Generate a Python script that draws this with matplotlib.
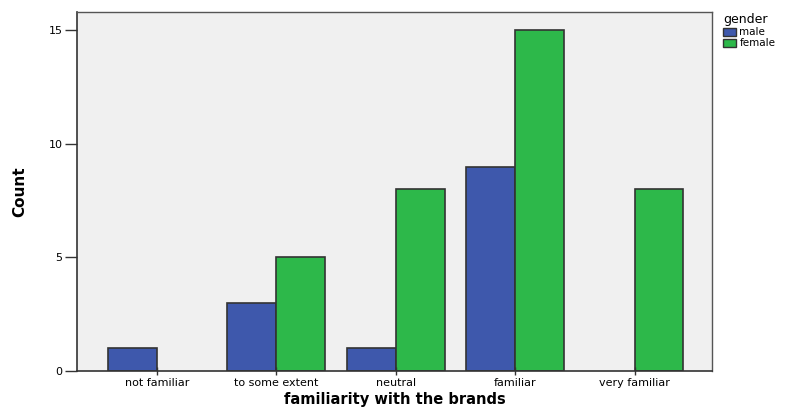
import matplotlib
matplotlib.use('Agg')
import matplotlib.pyplot as plt
import numpy as np
from matplotlib.patches import Patch

# counts per familiarity level, split by gender
categories = ['not familiar', 'to some extent', 'neutral', 'familiar', 'very familiar']
male = [1, 3, 1, 9, 0]
female = [0, 5, 8, 15, 8]
yticks = [0, 5, 10, 15]

blue = '#3E58AC'
green = '#2DB84A'
edge = '#333333'

fig = plt.figure(figsize=(7.88, 4.07), dpi=100)
ax = fig.add_axes([0.0977, 0.0885, 0.806, 0.882])
ax.set_facecolor('#F0F0F0')

x = np.arange(len(categories))
w = 0.41
# empty cells get no outline, like SPSS
ax.bar(x - w / 2, male, width=w, color=blue, edgecolor=edge,
       linewidth=[1.2 if v else 0 for v in male])
ax.bar(x + w / 2, female, width=w, color=green, edgecolor=edge,
       linewidth=[1.2 if v else 0 for v in female])

ax.set_xlim(-0.67, 4.65)
ax.set_ylim(0, 15.8)
ax.set_yticks(yticks)
ax.set_yticklabels([str(t) for t in yticks], fontsize=8, family='DejaVu Sans')
ax.set_xticks(x)
ax.set_xticklabels(categories, fontsize=8, family='DejaVu Sans')
ax.tick_params(axis='y', direction='out', length=8.5, width=1, colors='#333333', pad=2)
ax.tick_params(axis='x', direction='inout', length=6, width=1, colors='#333333', pad=2)
for lbl in ax.get_xticklabels() + ax.get_yticklabels():
    lbl.set_color('black')

for s in ['left', 'bottom']:
    ax.spines[s].set_color('#333333')
    ax.spines[s].set_linewidth(1.2)
for s in ['top', 'right']:
    ax.spines[s].set_color('#555555')
    ax.spines[s].set_linewidth(1.0)
ax.set_axisbelow(False)

ax.set_ylabel('Count', fontsize=11, fontweight='bold', family='Liberation Sans Narrow', labelpad=15)
ax.set_xlabel('familiarity with the brands', fontsize=10.5, fontweight='bold', family='DejaVu Sans', labelpad=3)

handles = [Patch(facecolor=blue, edgecolor=edge), Patch(facecolor=green, edgecolor=edge)]
leg = fig.legend(handles, ['male', 'female'], title='gender', loc='upper left',
                 bbox_to_anchor=(0.908, 0.985), frameon=False, fontsize=7.5,
                 title_fontsize=9, handlelength=1.3, handleheight=0.9,
                 handletextpad=0.3, labelspacing=0.1, borderpad=0.2)
leg._legend_box.align = 'left'

fig.savefig('out.png', dpi=100)
